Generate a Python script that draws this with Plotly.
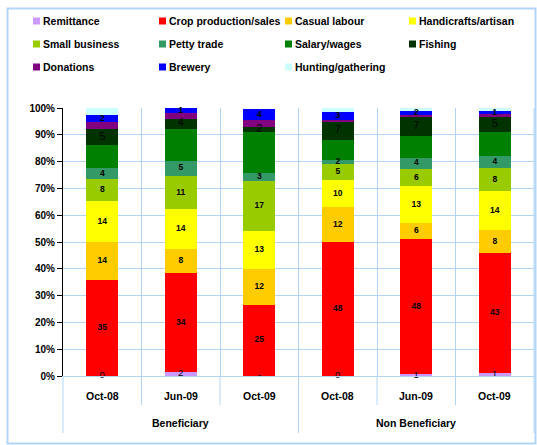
import numpy as np
import plotly.graph_objects as go

# ---------------- data ----------------
groups = ["Beneficiary"] * 3 + ["Non Beneficiary"] * 3
periods = ["Oct-08", "Jun-09", "Oct-09", "Oct-08", "Jun-09", "Oct-09"]

series_names = ["Remittance", "Crop production/sales", "Casual labour", "Handicrafts/artisan",
                "Small business", "Petty trade", "Salary/wages", "Fishing",
                "Donations", "Brewery", "Hunting/gathering"]

# share of households (%) -> heights of stacked segments
remittance = [0, 1.6, 0, 0, 0.6, 1.0]
crop = [35.8, 36.7, 26.6, 50.0, 50.4, 44.8]
casual = [14.2, 9.0, 13.3, 13.1, 6.0, 8.6]
handicrafts = [15.3, 15.0, 14.3, 10.0, 13.9, 14.6]
small_business = [8.2, 12.4, 18.7, 6.1, 6.4, 8.6]
petty_trade = [4.1, 5.6, 3.0, 1.5, 4.1, 4.5]
salary = [8.6, 12.0, 15.3, 7.5, 8.25, 9.0]
fishing = [5.9, 3.7, 1.7, 6.7, 7.1, 5.6]
donations = [2.7, 2.2, 2.5, 0.75, 0.5, 0.9]
brewery = [2.6, 1.9, 4.4, 3.0, 1.75, 1.4]
hunting = [2.5, 0, 0, 1.4, 1.0, 1.0]

# data labels as printed on the chart
remittance_lbl = ["0", "2", "-", "0", "1", "1"]
crop_lbl = ["35", "34", "25", "48", "48", "43"]
casual_lbl = ["14", "8", "12", "12", "6", "8"]
handicrafts_lbl = ["14", "14", "13", "10", "13", "14"]
small_business_lbl = ["8", "11", "17", "5", "6", "8"]
petty_trade_lbl = ["4", "5", "3", "2", "4", "4"]
fishing_lbl = ["5", "4", "2", "7", "7", "5"]
brewery_lbl = ["2", "1", "4", "3", "2", "1"]

y_ticks = list(range(0, 101, 10))
y_tick_text = [f"{v}%" for v in y_ticks]

# ---------------- styles ----------------
colors = ["#cc99ff", "#ff0000", "#ffcc00", "#ffff00", "#99cc00", "#339966",
          "#008000", "#003300", "#800080", "#0000ff", "#ccffff"]
values = [remittance, crop, casual, handicrafts, small_business, petty_trade,
          salary, fishing, donations, brewery, hunting]
labels = [remittance_lbl, crop_lbl, casual_lbl, handicrafts_lbl, small_business_lbl,
          petty_trade_lbl, None, fishing_lbl, None, brewery_lbl, None]
label_font = [dict(size=9.5, weight="normal"), dict(size=8.5, weight="bold"),
              dict(size=8.5, weight="bold"), dict(size=8.5, weight="bold"),
              dict(size=8.5, weight="bold"), dict(size=8.5, weight="bold"), None,
              dict(size=11, weight="normal"), None, dict(size=9, weight="bold"), None]

GRID = "#b3d5f5"
FONT = "Liberation Sans, Arial, sans-serif"
W, H = 537, 445
L, R, T, B = 63, 3, 108, 69
PW, PH = W - L - R, H - T - B


def px2x(px):
    return (px - L) / PW


def py2y(py):
    return (H - B - py) / PH


x_multi = [groups, periods]
fig = go.Figure()

for name, vals, col in zip(series_names, values, colors):
    fig.add_trace(go.Bar(x=x_multi, y=vals, name=name, marker=dict(color=col, line=dict(width=0)),
                         showlegend=False, hoverinfo="name+y"))

# data labels placed at the middle of each segment
base = np.zeros(len(periods))
for vals, lbl, fnt in zip(values, labels, label_font):
    v = np.array(vals, dtype=float)
    if lbl is not None:
        fig.add_trace(go.Scatter(x=x_multi, y=base + v / 2, mode="text", text=lbl,
                                 textposition="middle center",
                                 textfont=dict(family=FONT, color="#000000", **fnt),
                                 showlegend=False, hoverinfo="skip", cliponaxis=False))
    base = base + v

fig.update_layout(
    barmode="stack", bargap=0.59,
    width=W, height=H,
    margin=dict(l=L, r=R, t=T, b=B),
    paper_bgcolor="white", plot_bgcolor="white",
    font=dict(family=FONT, color="#000000"),
    showlegend=False,
)
fig.update_xaxes(type="multicategory", showgrid=True, gridcolor=GRID, gridwidth=1,
                 tickson="boundaries", ticks="", showdividers=False, showticklabels=False,
                 showline=True, linecolor=GRID, linewidth=1)
fig.update_yaxes(range=[0, 100], tickvals=y_ticks, ticktext=y_tick_text,
                 showgrid=True, gridcolor=GRID, gridwidth=1, zeroline=False,
                 showline=True, linecolor="#000000", linewidth=1,
                 ticks="outside", ticklen=5, tickcolor="#000000",
                 tickfont=dict(family=FONT, size=10, weight="bold", color="#000000"))

shapes = []
annotations = []
# outer frame
shapes.append(dict(type="rect", xref="paper", yref="paper",
                   x0=px2x(7.5), x1=px2x(535.5), y0=py2y(443.5), y1=py2y(8.5),
                   line=dict(color="#b3d5f5", width=2), fillcolor="rgba(0,0,0,0)", layer="below"))
# category separators below the axis
n = len(periods)
for k in range(n + 1):
    is_group = k == 0 or k == n or groups[k - 1] != groups[min(k, n - 1)]
    depth = 57 if is_group else 29
    shapes.append(dict(type="line", xref="paper", yref="paper",
                       x0=k / n, x1=k / n, y0=0, y1=-depth / PH,
                       line=dict(color=GRID, width=1)))
# right plot edge
shapes.append(dict(type="line", xref="paper", yref="paper", x0=1, x1=1, y0=0, y1=1,
                   line=dict(color=GRID, width=1)))

# x-axis labels: periods (inner level) and groups (outer level)
tick_font = dict(family=FONT, size=10.5, weight="bold", color="#000000")
for k, p in enumerate(periods):
    annotations.append(dict(xref="paper", yref="paper", x=(k + 0.5) / n, y=-20 / PH,
                            xanchor="center", yanchor="middle", showarrow=False,
                            text=p, font=tick_font))
for g in dict.fromkeys(groups):
    idx = [i for i, gg in enumerate(groups) if gg == g]
    xc = (idx[0] + idx[-1] + 1) / 2 / n
    annotations.append(dict(xref="paper", yref="paper", x=xc, y=-47 / PH,
                            xanchor="center", yanchor="middle", showarrow=False,
                            text=g, font=tick_font))

# custom legend (4 columns x 3 rows)
col_left = [33, 159, 285, 409]
row_mid = [21, 44, 67]
for i, (name, col) in enumerate(zip(series_names, colors)):
    r, c = divmod(i, 4)
    x0 = col_left[c]
    yc = row_mid[r]
    shapes.append(dict(type="rect", xref="paper", yref="paper",
                       x0=px2x(x0), x1=px2x(x0 + 7), y0=py2y(yc + 3.5), y1=py2y(yc - 3.5),
                       line=dict(width=0), fillcolor=col))
    annotations.append(dict(xref="paper", yref="paper", x=px2x(x0 + 8), y=py2y(yc),
                            xanchor="left", yanchor="middle", showarrow=False, text=name,
                            font=dict(family=FONT, size=10.5, weight="bold", color="#000000")))

fig.update_layout(shapes=shapes, annotations=annotations)
fig.write_html("out.html", config={"displayModeBar": False},
               post_script="document.body.style.margin='0';document.body.style.overflow='hidden';")
